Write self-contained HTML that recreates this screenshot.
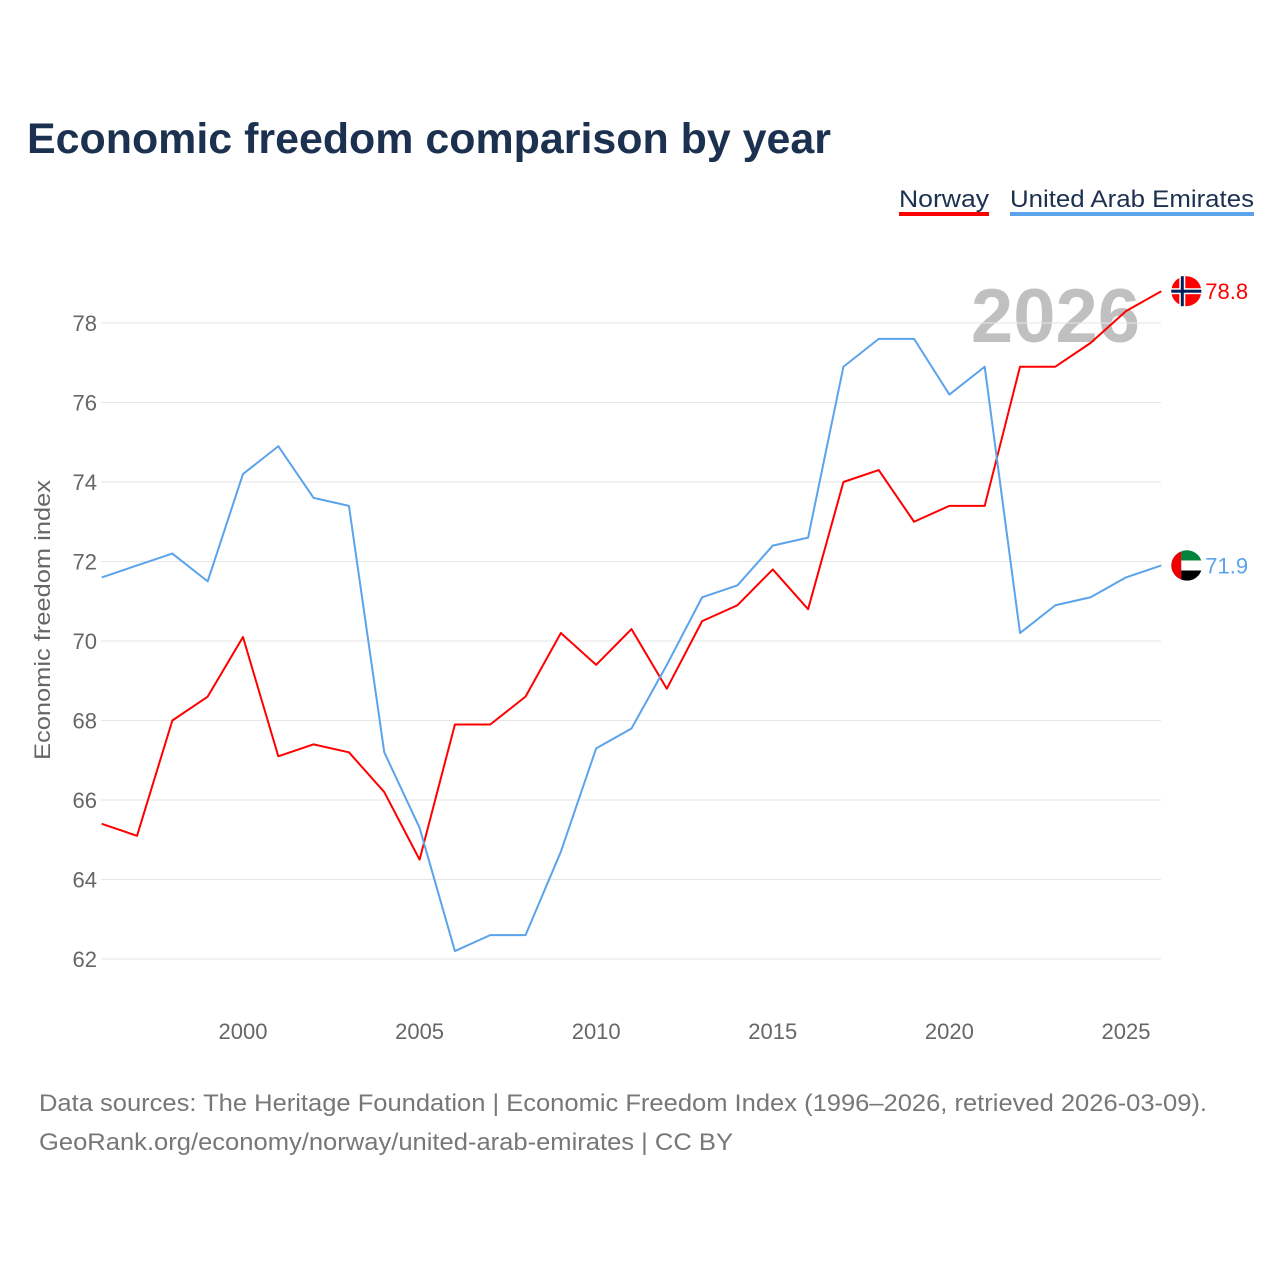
<!DOCTYPE html>
<html><head><meta charset="utf-8">
<style>
body{margin:0;background:#fff;width:1280px;height:1280px;overflow:hidden;font-family:"Liberation Sans",sans-serif;}
svg text{font-family:"Liberation Sans",sans-serif;}
</style></head>
<body>
<svg id="chart" width="1280" height="1280" xmlns="http://www.w3.org/2000/svg">
<text x="27" y="153" font-size="43" font-weight="bold" fill="#1c3150" textLength="804" lengthAdjust="spacingAndGlyphs">Economic freedom comparison by year</text>
<g>
<text x="899" y="207" font-size="24" fill="#1c3150" textLength="90" lengthAdjust="spacingAndGlyphs">Norway</text>
<rect x="899" y="212" width="90" height="4" fill="#ff0000"/>
<text x="1010" y="207" font-size="24" fill="#1c3150" textLength="244" lengthAdjust="spacingAndGlyphs">United Arab Emirates</text>
<rect x="1010" y="212" width="244" height="4" fill="#5ba3ea"/>
</g>
<text x="1140" y="342" font-size="76" font-weight="bold" fill="#c0c0c0" text-anchor="end">2026</text>
<g id="grid"></g>
<g id="xticks"></g>
<text transform="translate(50,620) rotate(-90)" font-size="22" fill="#666" text-anchor="middle" textLength="280" lengthAdjust="spacingAndGlyphs">Economic freedom index</text>
<g id="series"></g>
<text x="39" y="1111" font-size="24" fill="#777" textLength="1168" lengthAdjust="spacingAndGlyphs">Data sources: The Heritage Foundation | Economic Freedom Index (1996–2026, retrieved 2026-03-09).</text>
<text x="39" y="1150" font-size="24" fill="#777" textLength="694" lengthAdjust="spacingAndGlyphs">GeoRank.org/economy/norway/united-arab-emirates | CC BY</text>
</svg>
<script>
const years=[1996,1997,1998,1999,2000,2001,2002,2003,2004,2005,2006,2007,2008,2009,2010,2011,2012,2013,2014,2015,2016,2017,2018,2019,2020,2021,2022,2023,2024,2025,2026];
const norway=[65.4,65.1,68.0,68.6,70.1,67.1,67.4,67.2,66.2,64.5,67.9,67.9,68.6,70.2,69.4,70.3,68.8,70.5,70.9,71.8,70.8,74.0,74.3,73.0,73.4,73.4,76.9,76.9,77.5,78.3,78.8];
const uae=[71.6,71.9,72.2,71.5,74.2,74.9,73.6,73.4,67.2,65.3,62.2,62.6,62.6,64.7,67.3,67.8,69.4,71.1,71.4,72.4,72.6,76.9,77.6,77.6,76.2,76.9,70.2,70.9,71.1,71.6,71.9];
const yTicks=[62,64,66,68,70,72,74,76,78];
const xTicks=[2000,2005,2010,2015,2020,2025];
const NS='http://www.w3.org/2000/svg';
const x=v=>101.7+(v-1996)*35.32;
const y=v=>959-(v-62)*39.75;
function mk(t,a,p){const e=document.createElementNS(NS,t);for(const k in a)e.setAttribute(k,a[k]);p.appendChild(e);return e;}
const grid=document.getElementById('grid');
yTicks.forEach(t=>{
 const l=mk('line',{x1:101,x2:1161,y1:y(t),y2:y(t),stroke:'#e6e6e6','stroke-width':1},grid);
 
 
 const tx=mk('text',{x:97,y:y(t)+8,'font-size':22,fill:'#666','text-anchor':'end'},grid);
 tx.textContent=t;
 
 
});
const xt=document.getElementById('xticks');
xTicks.forEach(t=>{
 const tx=mk('text',{x:x(t),y:1039,'font-size':22,fill:'#666','text-anchor':'middle'},xt);
 tx.textContent=t;
 
 
});
const sg=document.getElementById('series');
function series(vals,color,name){
 const p=mk('polyline',{points:vals.map((v,i)=>x(years[i])+','+y(v)).join(' '),fill:'none',stroke:color,'stroke-width':2,'stroke-linejoin':'round'},sg);
 
 
 const lv=vals[vals.length-1];
 const cx=x(years[years.length-1])+25, cy=y(lv);
 const c=mk('circle',{cx:cx,cy:cy,r:15,fill:color},sg);
 
 
 const tx=mk('text',{x:cx+19,y:cy+8,'font-size':22,fill:color},sg);
 tx.textContent=lv.toFixed(1);
 
 
 return [cx,cy];
}
const [nx,ny]=series(norway,'#ff0000','norway');
mk('rect',{x:nx-15,y:ny-3,width:30,height:6,fill:'#fff'},sg);
mk('rect',{x:nx-7,y:ny-15,width:6,height:30,fill:'#fff'},sg);
mk('rect',{x:nx-15,y:ny-1.5,width:30,height:3,fill:'#00205b'},sg);
mk('rect',{x:nx-5.5,y:ny-15,width:3,height:30,fill:'#00205b'},sg);
const [ux,uy]=series(uae,'#5ba3ea','uae');
mk('path',{d:`M${ux-15},${uy} A15,15 0 0 1 ${ux-5},${uy-14} L${ux-5},${uy+14} A15,15 0 0 1 ${ux-15},${uy}Z`,fill:'#e00'},sg);
mk('path',{d:`M${ux-5},${uy-14} A15,15 0 0 1 ${ux+15},${uy-5} L${ux-5},${uy-5}Z`,fill:'#00843d'},sg);
mk('rect',{x:ux-5,y:uy-5,width:20,height:10,fill:'#fff'},sg);
mk('path',{d:`M${ux-5},${uy+5} L${ux+15},${uy+5} A15,15 0 0 1 ${ux-5},${uy+14}Z`,fill:'#000'},sg);
</script>
</body></html>
